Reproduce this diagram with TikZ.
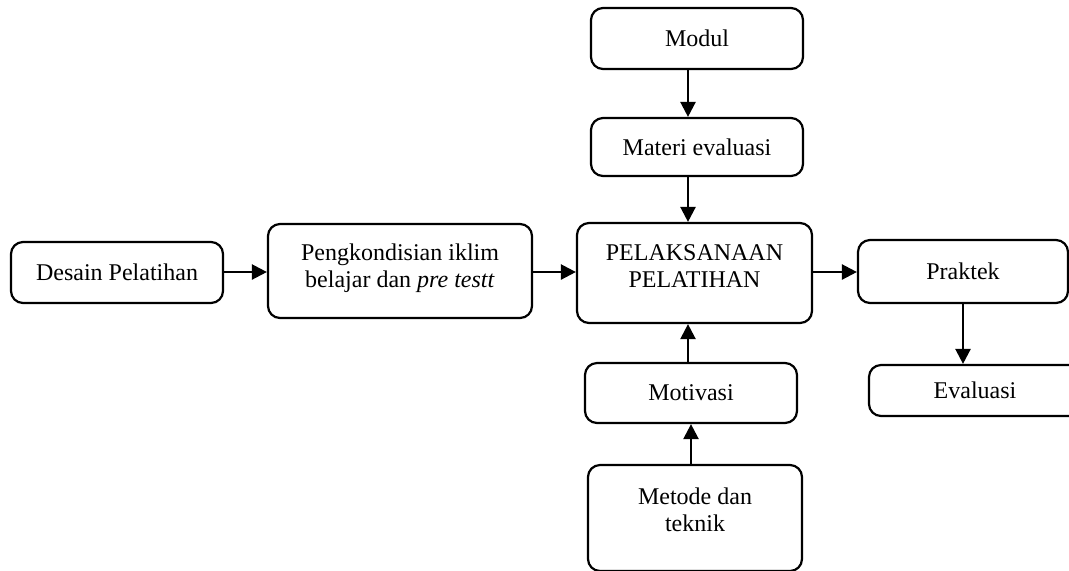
\documentclass[tikz,border=0pt]{standalone}
\usepackage{fontspec}
\setmainfont{Liberation Serif}
\usetikzlibrary{arrows.meta}
\tikzset{
  box/.style={draw, line width=1.1pt, rounded corners=6pt, align=center, inner sep=0pt},
  txt/.style={align=center, inner sep=0pt},
  arr/.style={line width=1.2pt, -{Triangle[length=7.5pt,width=7.5pt]}}
}
\begin{document}
\begin{tikzpicture}[x=0.5pt,y=-0.5pt,font=\fontsize{12pt}{13.5pt}\selectfont]
\useasboundingbox (0,0) rectangle (1069,570);
\node[box, minimum width=106pt, minimum height=30.5pt] (modul) at (697,38.5) {Modul};
\node[box, minimum width=106pt, minimum height=29pt] (materi) at (697,147) {Materi evaluasi};
\node[box, minimum width=106pt, minimum height=30.5pt] (desain) at (117,272.5) {Desain Pelatihan};
\node[box, minimum width=132pt, minimum height=47pt] (peng) at (400,271) {};
\node[txt] (pengt) at (400,268.5) {Pengkondisian iklim\\belajar dan \textit{pre testt}};
\node[box, minimum width=117.5pt, minimum height=50pt] (pel) at (694.5,273) {};
\node[txt] (pelt) at (694.5,266) {PELAKSANAAN\\PELATIHAN};
\node[box, minimum width=105pt, minimum height=31.5pt] (praktek) at (963,271.5) {Praktek};
\node[box, minimum width=106pt, minimum height=25.5pt] (evaluasi) at (975,390.5) {Evaluasi};
\node[box, minimum width=106pt, minimum height=30pt] (motivasi) at (691,393) {Motivasi};
\node[box, minimum width=107pt, minimum height=53pt] (metode) at (695,518) {};
\node[txt] (metodet) at (695,510) {Metode dan\\teknik};
\coordinate (ax) at (688,0);
\coordinate (bx) at (691,0);
\coordinate (cx) at (963,0);
\coordinate (hy) at (0,272);
\draw[arr] (modul.south -| ax) -- (materi.north -| ax);
\draw[arr] (materi.south -| ax) -- (pel.north -| ax);
\draw[arr] (motivasi.north -| ax) -- (pel.south -| ax);
\draw[arr] (metode.north -| bx) -- (motivasi.south -| bx);
\draw[arr] (desain.east |- hy) -- (peng.west |- hy);
\draw[arr] (peng.east |- hy) -- (pel.west |- hy);
\draw[arr] (pel.east |- hy) -- (praktek.west |- hy);
\draw[arr] (praktek.south -| cx) -- (evaluasi.north -| cx);
\end{tikzpicture}
\end{document}
